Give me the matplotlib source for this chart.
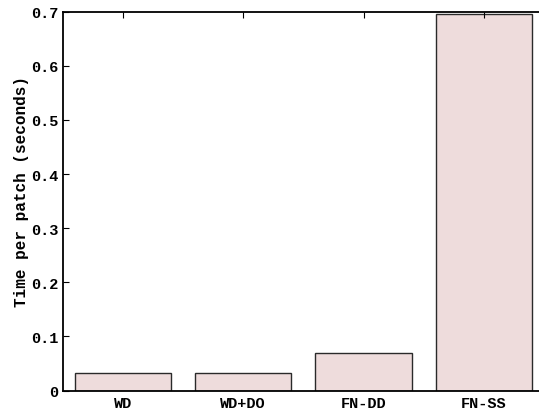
import numpy as np
import matplotlib
matplotlib.use("Agg")
import matplotlib.pyplot as plt

# timings per method
methods = ["WD", "WD+DO", "FN-DD", "FN-SS"]
times = [0.032, 0.032, 0.070, 0.696]

plt.rcParams['font.family'] = ['Liberation Mono', 'DejaVu Sans Mono']
plt.rcParams['font.weight'] = 'bold'

fig = plt.figure(figsize=(5.39, 4.14), dpi=100)
ax = fig.add_axes([62.7 / 539, 22.5 / 414, (544 - 62.7) / 539, (391.5 - 12.7) / 414])

x = np.arange(len(methods))
ax.bar(x, times, 0.8, color="#eedcdc", edgecolor="#2a2a2a", linewidth=1.0)

ax.set_xlim(-0.5, len(methods) - 0.5)
ax.set_ylim(0, 0.7)
ax.set_xticks(x)
ax.set_xticklabels(methods, fontsize=11, fontweight='bold')
ax.set_yticks([0, 0.1, 0.2, 0.3, 0.4, 0.5, 0.6, 0.7])
ax.set_yticklabels(["0", "0.1", "0.2", "0.3", "0.4", "0.5", "0.6", "0.7"], fontsize=11, fontweight='bold')
ax.tick_params(direction='in', top=True, right=False, bottom=False, length=4, width=0.8, pad=3)
ax.tick_params(axis='x', pad=4)
ax.set_ylabel("Time per patch (seconds)", fontsize=11.5, fontweight='bold')
ax.yaxis.set_label_coords(-0.071, 0.527)
for s in ax.spines.values():
    s.set_linewidth(1.3)

fig.savefig("out.png", dpi=100)
